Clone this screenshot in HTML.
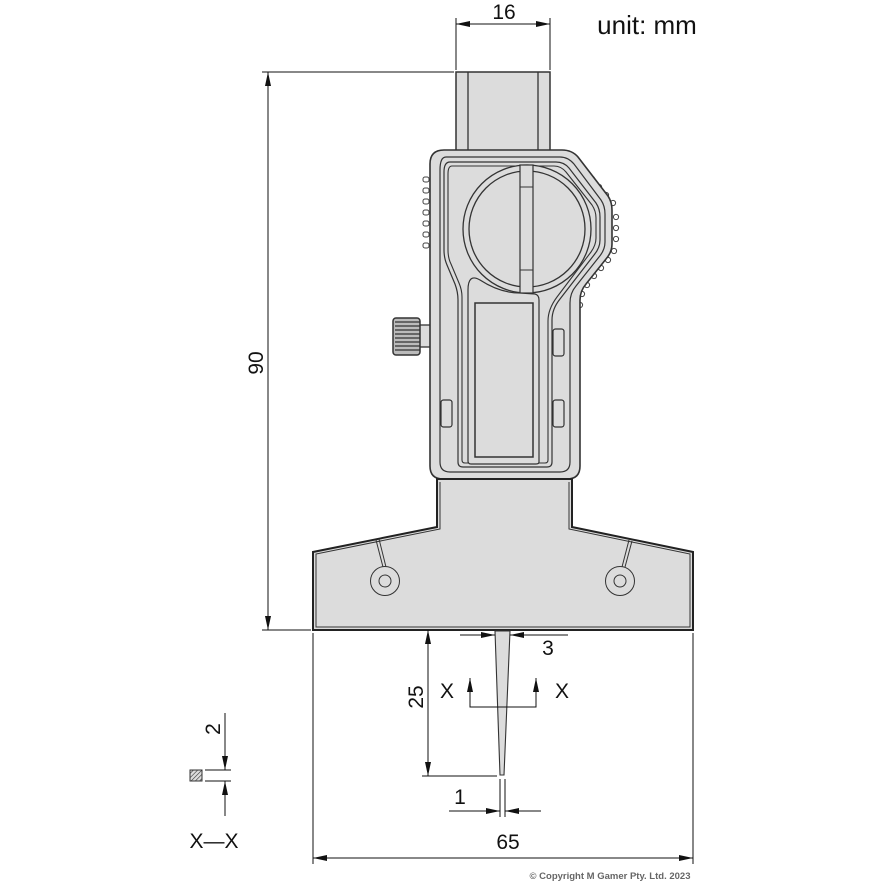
<!DOCTYPE html>
<html><head><meta charset="utf-8"><style>
html,body{margin:0;padding:0;background:#fff;}
svg{display:block;}
text{font-family:"Liberation Sans",Arial,sans-serif;fill:#111;}
</style></head><body>
<svg width="886" height="886" viewBox="0 0 886 886" xmlns="http://www.w3.org/2000/svg">
<defs>
<marker id="a" viewBox="0 0 14 6" refX="14" refY="3" markerWidth="14" markerHeight="6" orient="auto" markerUnits="userSpaceOnUse"><path d="M0,0 L14,3 L0,6 Z" fill="#111"/></marker>
<pattern id="h" width="3" height="3" patternUnits="userSpaceOnUse" patternTransform="rotate(45)"><rect width="3" height="3" fill="#ddd"/><line x1="0" y1="0" x2="0" y2="3" stroke="#333" stroke-width="1.2"/></pattern>
</defs>

<!-- rod -->
<rect x="456" y="72" width="94" height="82" fill="#dcdcdc" stroke="#333" stroke-width="1.5"/>
<line x1="468" y1="72" x2="468" y2="154" stroke="#333" stroke-width="1.3"/>
<line x1="538" y1="72" x2="538" y2="154" stroke="#333" stroke-width="1.3"/>

<!-- knurl dots -->
<g fill="#fff" stroke="#444" stroke-width="1">
<rect x="423" y="177" width="6" height="5" rx="2"/><rect x="423" y="188" width="6" height="5" rx="2"/><rect x="423" y="199" width="6" height="5" rx="2"/><rect x="423" y="210" width="6" height="5" rx="2"/><rect x="423" y="221" width="6" height="5" rx="2"/><rect x="423" y="232" width="6" height="5" rx="2"/><rect x="423" y="243" width="6" height="5" rx="2"/>
<circle cx="578" cy="163" r="2.6"/><circle cx="585" cy="171" r="2.6"/><circle cx="592" cy="179" r="2.6"/><circle cx="599" cy="187" r="2.6"/><circle cx="606" cy="195" r="2.6"/><circle cx="613" cy="203" r="2.6"/>
<circle cx="616" cy="217" r="2.6"/><circle cx="616" cy="228" r="2.6"/><circle cx="616" cy="239" r="2.6"/><circle cx="614" cy="251" r="2.6"/>
<circle cx="608" cy="260" r="2.6"/><circle cx="601" cy="268" r="2.6"/><circle cx="594" cy="276" r="2.6"/><circle cx="587" cy="285" r="2.6"/><circle cx="582" cy="294" r="2.6"/><circle cx="580" cy="305" r="2.6"/>
</g>

<!-- thumb wheel -->
<rect x="418" y="325" width="14" height="22" fill="#dcdcdc" stroke="#333" stroke-width="1.3"/>
<rect x="393" y="318" width="27" height="37" rx="3" fill="#bbb" stroke="#333" stroke-width="1.5"/>
<g stroke="#333" stroke-width="1.2">
<line x1="395" y1="322" x2="420" y2="322"/><line x1="395" y1="326" x2="420" y2="326"/><line x1="395" y1="330" x2="420" y2="330"/><line x1="395" y1="334" x2="420" y2="334"/><line x1="395" y1="338" x2="420" y2="338"/><line x1="395" y1="342" x2="420" y2="342"/><line x1="395" y1="346" x2="420" y2="346"/><line x1="395" y1="350" x2="420" y2="350"/>
</g>

<!-- body -->
<path d="M444,150 L562,150 Q572,150 578,157 L608,196 Q612,202 612,210 L612,244 Q612,252 606,259 L586,284 Q580,291 580,300 L580,466 Q580,479 567,479 L443,479 Q430,479 430,466 L430,164 Q430,150 444,150 Z" fill="#dcdcdc" stroke="#333" stroke-width="1.6"/>
<path d="M446,157 L560,157 Q568,157 574,164 L601,200 Q605,206 605,214 L605,242 Q605,250 599,257 L576,286 Q570,293 570,303 L570,462 Q570,472 560,472 L450,472 Q440,472 440,462 L440,170 Q440,157 446,157 Z" fill="none" stroke="#333" stroke-width="1.2"/>
<path d="M450,162 L556,162 Q564,162 569,168 L596,203 Q600,209 600,217 L600,240 Q600,248 594,255 L560,299 Q552,309 552,320 L552,462 Q552,467 547,467 L463,467 Q458,467 458,462 L458,300 Q458,292 455,284 L447,265 Q444,258 444,250 L444,172 Q444,162 450,162 Z" fill="none" stroke="#333" stroke-width="1.2"/>
<path d="M452,166 L554,166 Q561,166 566,172 L592,205 Q596,211 596,218 L596,238 Q596,245 591,252 L557,297 Q548,309 548,321 L548,460 Q548,463 545,463 L465,463 Q462,463 462,460 L462,297 Q462,290 459,283 L451,264 Q448,258 448,250 L448,174 Q448,166 452,166 Z" fill="none" stroke="#333" stroke-width="1.1"/>
<!-- inner panel -->
<path d="M470,272 Q470,266 476,266 L533,292 Q539,294 539,300 L539,460 L468,460 Z" fill="none" stroke="none"/>
<!-- dial -->
<circle cx="527" cy="229" r="64" fill="#dcdcdc" stroke="#333" stroke-width="1.3"/>
<circle cx="527" cy="229" r="58" fill="#dcdcdc" stroke="#333" stroke-width="1.3"/>
<rect x="520" y="165" width="13" height="128" fill="#dcdcdc" stroke="#333" stroke-width="1.2"/>
<line x1="520" y1="187" x2="533" y2="187" stroke="#333" stroke-width="1"/>
<line x1="520" y1="270" x2="533" y2="270" stroke="#333" stroke-width="1"/>
<!-- display area -->
<path d="M468,290 Q468,273 480,280 Q500,293 520,293 L535,294 Q539,295 539,300 L539,462 Q539,464 536,464 L471,464 Q468,464 468,461 Z" fill="#dcdcdc" stroke="#333" stroke-width="1.2"/>
<rect x="475" y="303" width="58" height="154" fill="#dcdcdc" stroke="#333" stroke-width="1.5"/>
<!-- buttons -->
<rect x="553" y="329" width="11" height="27" rx="2.5" fill="#dcdcdc" stroke="#333" stroke-width="1.2"/>
<rect x="553" y="400" width="11" height="27" rx="2.5" fill="#dcdcdc" stroke="#333" stroke-width="1.2"/>
<rect x="441" y="400" width="11" height="27" rx="2.5" fill="#dcdcdc" stroke="#333" stroke-width="1.2"/>

<!-- base -->
<path d="M437,479 L437,527 L313,552 L313,630 L693,630 L693,552 L572,527 L572,479 Z" fill="#dcdcdc" stroke="#222" stroke-width="2"/>
<path d="M440,482 L440,529 L316,554 L316,627 L690,627 L690,554 L569,529 L569,482" fill="none" stroke="#333" stroke-width="1"/>
<g stroke="#333" stroke-width="1" fill="none">
<line x1="376" y1="540" x2="383" y2="567"/><line x1="379" y1="539" x2="386" y2="567"/>
<line x1="629" y1="540" x2="622" y2="567"/><line x1="632" y1="541" x2="625" y2="567"/>
<circle cx="385" cy="581" r="14.5" fill="#dcdcdc"/><circle cx="385" cy="581" r="6"/>
<circle cx="620" cy="581" r="14.5" fill="#dcdcdc"/><circle cx="620" cy="581" r="6"/>
</g>

<!-- probe -->
<path d="M495,631 L510,631 L504,775 L500,775 Z" fill="#dcdcdc" stroke="#333" stroke-width="1.1"/>

<!-- dimension lines -->
<g stroke="#111" stroke-width="1" fill="none">
<!-- 16 -->
<line x1="456" y1="18" x2="456" y2="70"/><line x1="550" y1="18" x2="550" y2="70"/>
<line x1="503" y1="24" x2="456" y2="24" marker-end="url(#a)"/><line x1="503" y1="24" x2="550" y2="24" marker-end="url(#a)"/>
<!-- 90 -->
<line x1="262" y1="72" x2="454" y2="72"/><line x1="262" y1="630" x2="311" y2="630"/>
<line x1="268" y1="350" x2="268" y2="72" marker-end="url(#a)"/><line x1="268" y1="350" x2="268" y2="630" marker-end="url(#a)"/>
<!-- 65 -->
<line x1="313" y1="633" x2="313" y2="864"/><line x1="693" y1="633" x2="693" y2="864"/>
<line x1="503" y1="858" x2="313" y2="858" marker-end="url(#a)"/><line x1="503" y1="858" x2="693" y2="858" marker-end="url(#a)"/>
<!-- 25 -->
<line x1="422" y1="776" x2="497" y2="776"/>
<line x1="428" y1="700" x2="428" y2="630" marker-end="url(#a)"/><line x1="428" y1="700" x2="428" y2="776" marker-end="url(#a)"/>
<!-- 3 -->
<line x1="460" y1="635" x2="495" y2="635" marker-end="url(#a)"/><line x1="568" y1="635" x2="510" y2="635" marker-end="url(#a)"/>
<!-- 1 -->
<line x1="500" y1="779" x2="500" y2="817"/><line x1="505" y1="779" x2="505" y2="817"/>
<line x1="449" y1="811" x2="500" y2="811" marker-end="url(#a)"/><line x1="541" y1="811" x2="505" y2="811" marker-end="url(#a)"/>
<!-- X-X section -->
<polyline points="470,678 470,707 536,707 536,678"/>
<line x1="470" y1="700" x2="470" y2="678" marker-end="url(#a)"/><line x1="536" y1="700" x2="536" y2="678" marker-end="url(#a)"/>
<!-- 2 -->
<line x1="205" y1="770" x2="231" y2="770"/><line x1="205" y1="781" x2="231" y2="781"/>
<line x1="225" y1="713" x2="225" y2="770" marker-end="url(#a)"/><line x1="225" y1="816" x2="225" y2="781" marker-end="url(#a)"/>
</g>
<rect x="190" y="770" width="12" height="11" fill="url(#h)" stroke="#333" stroke-width="1"/>

<!-- labels -->
<text x="504" y="19" font-size="21" text-anchor="middle">16</text>
<text x="647" y="34" font-size="26" text-anchor="middle">unit: mm</text>
<text x="0" y="0" font-size="21" text-anchor="middle" transform="translate(263,363) rotate(-90)">90</text>
<text x="0" y="0" font-size="21" text-anchor="middle" transform="translate(423,697) rotate(-90)">25</text>
<text x="548" y="655" font-size="21" text-anchor="middle">3</text>
<text x="447" y="698" font-size="21" text-anchor="middle">X</text>
<text x="562" y="698" font-size="21" text-anchor="middle">X</text>
<text x="460" y="804" font-size="21" text-anchor="middle">1</text>
<text x="508" y="849" font-size="21" text-anchor="middle">65</text>
<text x="0" y="0" font-size="21" text-anchor="middle" transform="translate(220,729) rotate(-90)">2</text>
<text x="214" y="848" font-size="21" text-anchor="middle">X—X</text>
<text x="610" y="879" font-size="9.5" font-weight="bold" text-anchor="middle" style="fill:#666">© Copyright M Gamer Pty. Ltd. 2023</text>
</svg>
</body></html>
